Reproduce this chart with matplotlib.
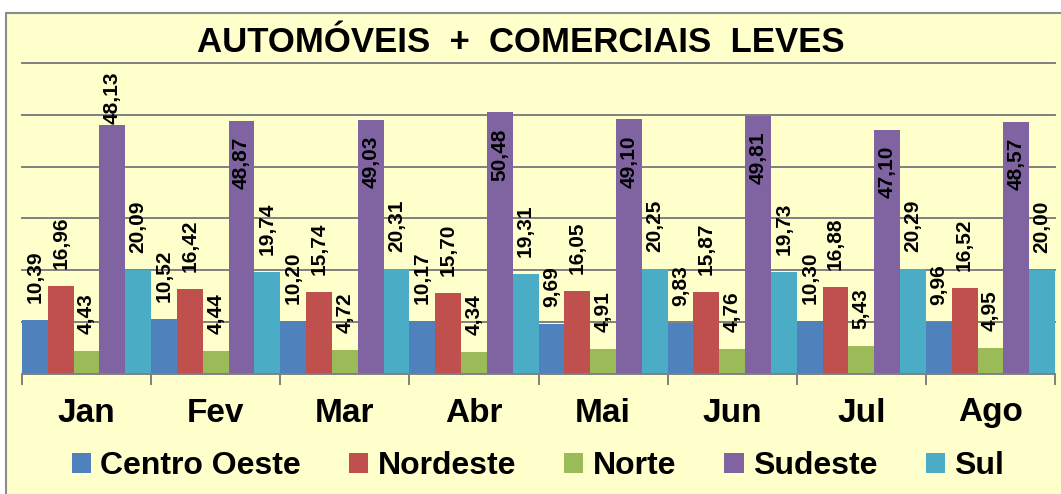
import matplotlib
matplotlib.use("Agg")
import matplotlib.pyplot as plt
import matplotlib.transforms as mtransforms
from matplotlib.patches import Rectangle
import numpy as np

months = ["Jan", "Fev", "Mar", "Abr", "Mai", "Jun", "Jul", "Ago"]
regions = ["Centro Oeste", "Nordeste", "Norte", "Sudeste", "Sul"]
centro_oeste = [10.39, 10.52, 10.20, 10.17, 9.69, 9.83, 10.30, 9.96]
nordeste = [16.96, 16.42, 15.74, 15.70, 16.05, 15.87, 16.88, 16.52]
norte = [4.43, 4.44, 4.72, 4.34, 4.91, 4.76, 5.43, 4.95]
sudeste = [48.13, 48.87, 49.03, 50.48, 49.10, 49.81, 47.10, 48.57]
sul = [20.09, 19.74, 20.31, 19.31, 20.25, 19.73, 20.29, 20.00]
title = "AUTOMÓVEIS  +  COMERCIAIS  LEVES"

series = [centro_oeste, nordeste, norte, sudeste, sul]
colors = ["#4F81BD", "#C0504D", "#9BBB59", "#8064A2", "#4BACC6"]
bg = "#FFFFCC"

plt.rcParams['font.family'] = ['Liberation Sans', 'DejaVu Sans']

W, H = 1061, 494
fig = plt.figure(figsize=(W / 100, H / 100), dpi=100)
fig.patch.set_facecolor("white")
fig.patches.append(Rectangle((6 / W, -0.1), 1.1, 1 - 13 / H + 0.1,
                             transform=fig.transFigure, facecolor=bg,
                             edgecolor="#8C8C8C", linewidth=1.5, zorder=-10))

ax = fig.add_axes([22 / W, 1 - 374 / H, (1055 - 22) / W, (374 - 63) / H])
ax.set_facecolor("none")
ax.set_xlim(0, len(months))
ax.set_ylim(0, 60)
ax.set_yticks(np.arange(10, 61, 10))
ax.yaxis.grid(True, color="#808080", linewidth=1.4)
for gl in ax.get_ygridlines():
    gl.set_clip_on(False)
ax.set_axisbelow(True)
ax.tick_params(axis="y", left=False, labelleft=False)
for s in ["left", "right", "top"]:
    ax.spines[s].set_visible(False)
ax.spines["bottom"].set_color("#808080")
ax.spines["bottom"].set_linewidth(1.4)
ax.set_xticks(np.arange(0, len(months) + 1))
ax.tick_params(axis="x", length=8, width=1.4, color="#808080", labelbottom=False)

x = np.arange(len(months))
bw = 0.2
label_fs = 15
px_per_unit = (374 - 63) / 60.0
gap_units = 17 / px_per_unit       # gap between bar top and outside label
len_units = 54 / px_per_unit       # approx label length
top_limit = (374 - 70) / px_per_unit  # labels kept inside the plot
inside = {(3, i) for i in range(1, 8)}
for k, (vals, c) in enumerate(zip(series, colors)):
    xs = x + bw * k + bw / 2
    ax.bar(xs, vals, width=bw, color=c, label=regions[k], zorder=2, linewidth=0)
    for i, (xx, v) in enumerate(zip(xs, vals)):
        lab = f"{v:.2f}".replace(".", ",")
        if (k, i) in inside:
            ax.annotate(lab, (xx, v), xytext=(0, -11.5), textcoords="offset points",
                        rotation=90, ha="center", va="top", fontsize=label_fs,
                        fontweight="bold", color="black", zorder=3)
        else:
            yb = min(v + gap_units, top_limit - len_units)
            ax.text(xx, yb, lab, rotation=90, ha="center", va="bottom",
                    fontsize=label_fs, fontweight="bold", color="black",
                    zorder=3, clip_on=False)

btrans = mtransforms.blended_transform_factory(ax.transData, fig.transFigure)
for i, m in enumerate(months):
    fig.text(i + 0.5, 1 - 413 / H, m, transform=btrans,
             ha="center", va="center", fontsize=24, fontweight="bold")

fig.text(521 / W, 1 - 43 / H, title, ha="center", va="center",
         fontsize=25, fontweight="bold")

handles, labels = ax.get_legend_handles_labels()
leg = fig.legend(handles, labels, loc="center", bbox_to_anchor=(538 / W, 1 - 466 / H),
                 ncol=5, frameon=False, prop={"size": 23, "weight": "bold"},
                 handlelength=0.6, handleheight=0.6, handletextpad=0.3,
                 columnspacing=1.5)

fig.savefig("out.png", dpi=100, facecolor=fig.get_facecolor())
